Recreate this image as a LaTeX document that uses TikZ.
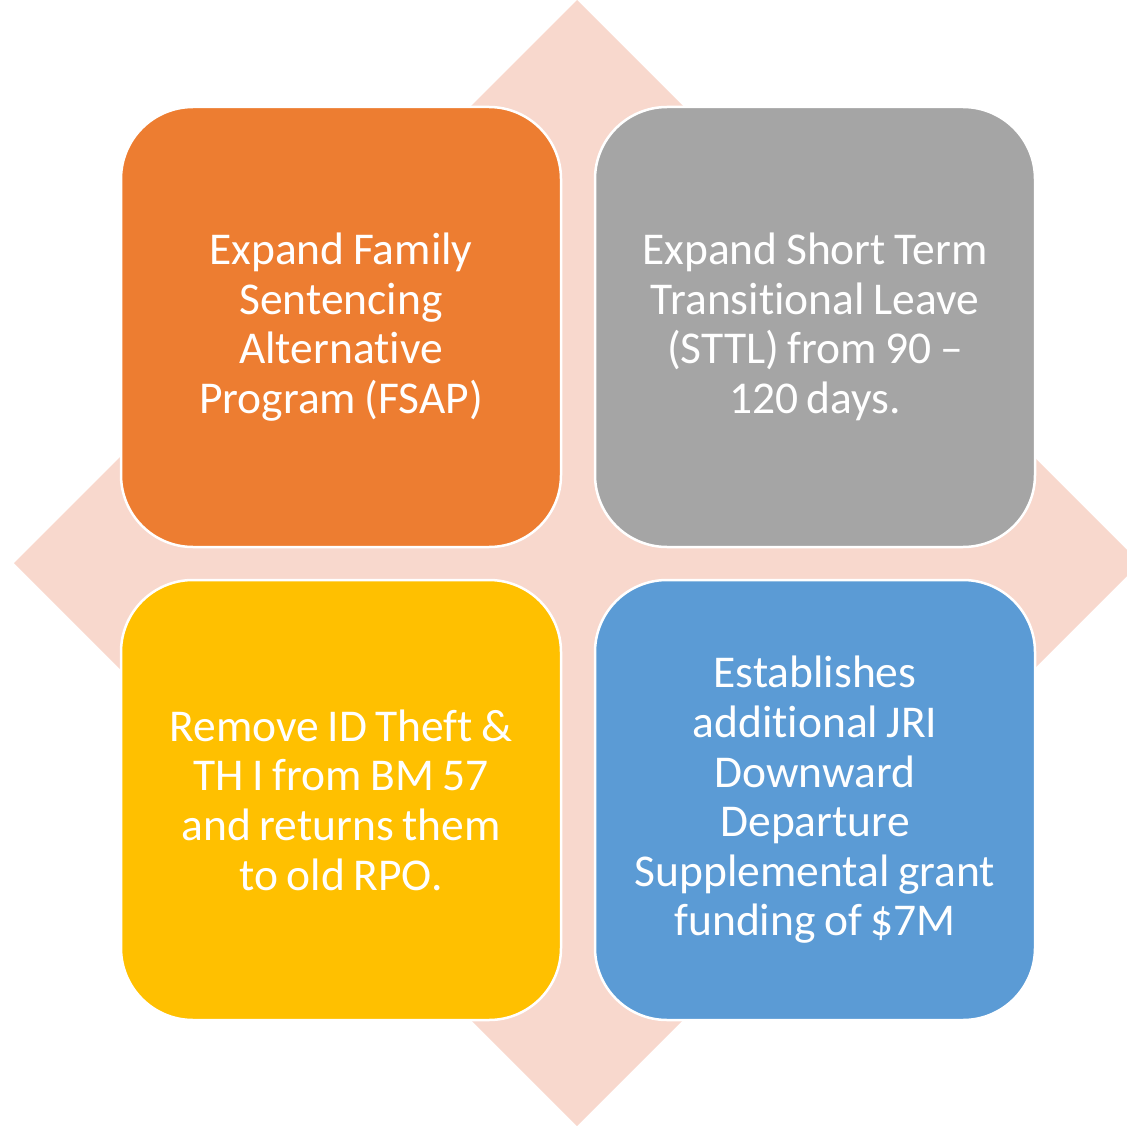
\documentclass[tikz,border=0pt]{standalone}
\usepackage{fontspec}
\setmainfont{Carlito}[Ligatures={NoCommon}]
\definecolor{diam}{HTML}{F8D8CD}
\definecolor{corange}{HTML}{ED7D31}
\definecolor{cgray}{HTML}{A5A5A5}
\definecolor{cyellow}{HTML}{FFC000}
\definecolor{cblue}{HTML}{5B9BD5}
\newcommand\tightsp{\spaceskip=8.5pt\relax}
\begin{document}
\begin{tikzpicture}[x=1pt,y=-1pt,
  quad/.style={draw=white,line width=2.5pt,rounded corners=72pt,
    minimum width=440pt,minimum height=440pt,inner sep=0pt,
    text=white,align=center,text width=420pt,
    font=\fontsize{45.5}{49.6}\selectfont}]
\useasboundingbox (0,0) rectangle (1127,1126);
\fill[diam] (577,0) -- (1140,563) -- (577,1126) -- (14,563) -- cycle;
\node[quad,fill=corange] (tl) at (341,327) {\tightsp Expand Family\\Sentencing\\Alternative\\Program (FSAP)};
\node[quad,fill=cgray] (tr) at (815,327) {\tightsp Expand Short Term\\Transitional Leave\\(STTL) from 90 --\\120 days.};
\node[quad,fill=cyellow] (bl) at (341,800) {\tightsp Remove ID Theft \&\\TH I from BM 57\\and returns them\\to old RPO.};
\node[quad,fill=cblue] (br) at (815,800) {\tightsp Establishes\\additional JRI\\Downward\\Departure\\Supplemental grant\\funding of \$7M};
\end{tikzpicture}
\end{document}
